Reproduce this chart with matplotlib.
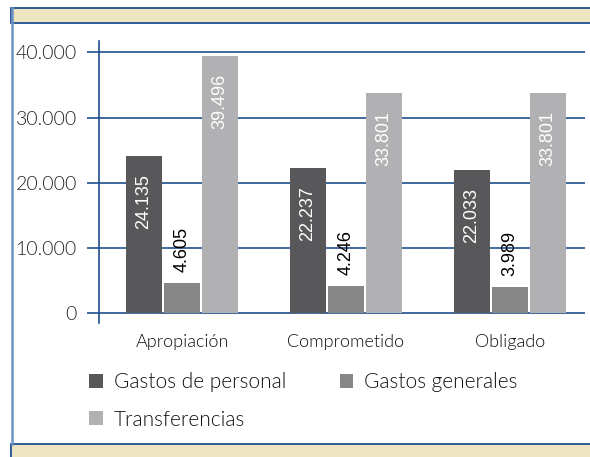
import numpy as np
import matplotlib.pyplot as plt
from matplotlib.patches import Rectangle
from matplotlib.lines import Line2D

categorias = ["Apropiación", "Comprometido", "Obligado"]
series = ["Gastos de personal", "Gastos generales", "Transferencias"]
gastos_personal = [24135, 22237, 22033]
gastos_generales = [4605, 4246, 3989]
transferencias = [39496, 33801, 33801]
yticks = [0, 10000, 20000, 30000, 40000]
ytick_labels = ["0", "10.000", "20.000", "30.000", "40.000"]

colores = ["#58585a", "#878787", "#b1b1b3"]
azul = "#1f4f8f"
crema = "#ede5c2"

plt.rcParams['font.family'] = ['Lato', 'DejaVu Sans']
plt.rcParams['font.weight'] = 300

W, H = 590, 457
fig = plt.figure(figsize=(W / 100, H / 100), dpi=100)

# marco: franja superior, línea izquierda y franja inferior
def px(x, y, w, h):
    return (x / W, 1 - (y + h) / H, w / W, h / H)

x0, y0, w0, h0 = px(11, 8, 600, 15)
fig.patches.append(Rectangle((x0, y0), w0, h0, transform=fig.transFigure,
                             facecolor=crema, edgecolor=azul, lw=1.3))
x0, y0, w0, h0 = px(11, 444, 600, 20)
fig.patches.append(Rectangle((x0, y0), w0, h0, transform=fig.transFigure,
                             facecolor=crema, edgecolor=azul, lw=1.3))
fig.lines.append(Line2D([11.5 / W, 11.5 / W], [1 - 8 / H, 1 - 444 / H],
                        transform=fig.transFigure, color="#6f93c4", lw=1.8))

ax = fig.add_axes([99 / W, 1 - 323 / H, 486 / W, 282 / H])
x = np.arange(len(categorias))
ancho = 0.22
desp = 0.233
valores = [gastos_personal, gastos_generales, transferencias]

ax.set_ylim(-1470, 41760)
ax.set_xlim(-0.506, 2.457)
for yt in yticks:
    ax.axhline(yt, color=azul, lw=1.2, zorder=1)

barras = []
for i, (vals, col) in enumerate(zip(valores, colores)):
    b = ax.bar(x + (i - 1) * desp, vals, ancho, color=col, zorder=2, label=series[i])
    barras.append(b)

# etiquetas de valores
fmt = lambda v: f"{v:,}".replace(",", ".")
for i, b in enumerate(barras):
    for rect, v in zip(b, valores[i]):
        cx = rect.get_x() + rect.get_width() / 2
        if i == 1:
            ax.annotate(fmt(v), (cx, v), xytext=(0, 8), textcoords="offset points",
                        rotation=90, ha="center", va="bottom", color="black",
                        fontsize=13, family="Liberation Sans", weight="normal", zorder=3)
        else:
            ax.annotate(fmt(v), (cx, v), xytext=(0, -13), textcoords="offset points",
                        rotation=90, ha="center", va="top", color="white",
                        fontsize=13, family="Liberation Sans", weight="normal", zorder=3)

for s in ["top", "right", "bottom"]:
    ax.spines[s].set_visible(False)
ax.spines["left"].set_color(azul)
ax.spines["left"].set_linewidth(1.2)
ax.set_yticks(yticks)
ax.set_yticklabels(ytick_labels, fontsize=14, color="#222222")
ax.tick_params(axis="y", length=9, width=1.2, color=azul, pad=7)
ax.set_xticks(x)
ax.set_xticklabels(categorias, fontsize=13, color="#111111")
ax.tick_params(axis="x", length=0, pad=8)

# orden por filas: personal, generales / transferencias
orden = [0, 2, 1]
leg = fig.legend(handles=[barras[k] for k in orden], labels=[series[k] for k in orden],
                 ncol=2, loc="upper left",
                 bbox_to_anchor=(89 / W, 1 - 372 / H), frameon=False,
                 fontsize=15, handlelength=0.65, handleheight=0.65,
                 handletextpad=0.55, columnspacing=2.55, labelspacing=0.85,
                 borderaxespad=0, borderpad=0)
for t in leg.get_texts():
    t.set_color("#111111")

fig.savefig("out.png", dpi=100)
